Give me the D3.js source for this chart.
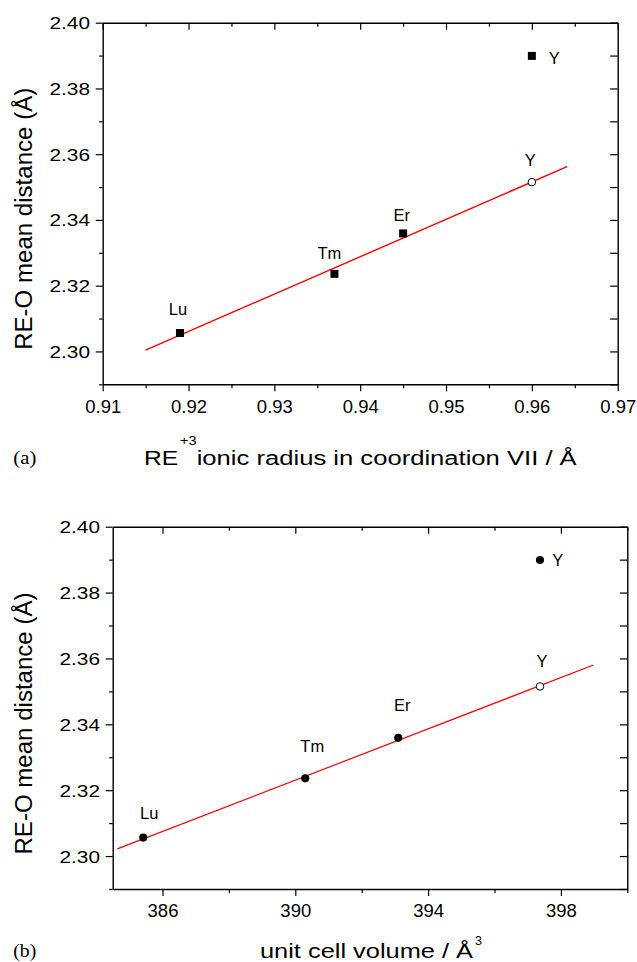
<!DOCTYPE html>
<html>
<head>
<meta charset="utf-8">
<script src="https://cdn.jsdelivr.net/npm/d3@7"></script>
<style>
  body { margin: 0; background: #fff; }
  svg text { font-family: "Liberation Sans", Arial, Helvetica, sans-serif; fill: #000; }
</style>
</head>
<body>
<svg id="fig" width="637" height="962"></svg>
<script>
// Rare-earth site geometry: mean RE-O distance vs ionic radius and vs unit cell volume
const elements = ["Lu", "Tm", "Er", "Y"];
const ionicRadius = [0.919, 0.937, 0.945, 0.960];          // Å, coordination VII
const cellVolume = [385.42, 390.30, 393.10, 397.37];       // Å^3
const meanDistance = [2.3056, 2.3236, 2.3359, 2.3899];     // Å, measured
const yttriumOnFit = 2.3515;                               // Å, Y value on the fitted line

// Linear fit lines (end points)
const fitRadius = [0.915, 0.9641];
const fitRadiusDistance = [2.3004, 2.3562];
const fitVolume = [384.64, 398.98];
const fitVolumeDistance = [2.3022, 2.3580];

// Tick values
const distanceTicks = [2.30, 2.32, 2.34, 2.36, 2.38, 2.40];
const distanceMinor = [2.29, 2.31, 2.33, 2.35, 2.37, 2.39];
const radiusTicks = [0.91, 0.92, 0.93, 0.94, 0.95, 0.96, 0.97];
const radiusMinor = [0.915, 0.925, 0.935, 0.945, 0.955, 0.965];
const volumeTicks = [386, 390, 394, 398];
const volumeMinor = [388, 392, 396, 400];

const svg = d3.select("#fig");

function drawPanel(cfg) {
  const x = d3.scaleLinear().domain(cfg.xDomain).range([cfg.left, cfg.right]);
  const y = d3.scaleLinear().domain([2.29, 2.40]).range([cfg.bottom, cfg.top]);
  const g = svg.append("g");

  const styleAxis = sel => {
    sel.selectAll(".domain").attr("stroke", "#000").attr("stroke-width", 1.4);
    sel.selectAll(".tick line").attr("stroke", "#000").attr("stroke-width", 1.2);
  };

  // bottom axis: outward ticks with labels
  const bx = g.append("g").attr("transform", `translate(0,${cfg.bottom})`)
    .call(d3.axisBottom(x).tickValues(cfg.xTicks).tickSize(7).tickSizeOuter(0).tickFormat(cfg.xFormat));
  bx.selectAll("text").attr("y", cfg.xLabelBase).attr("dy", null)
    .style("font-size", "18.5px");
  g.append("g").attr("transform", `translate(0,${cfg.bottom})`)
    .call(d3.axisBottom(x).tickValues(cfg.xMinor).tickSize(4).tickSizeOuter(0).tickFormat(""))
    .call(s => s.select(".domain").remove());
  styleAxis(g);

  // top axis: inward ticks
  const tx = g.append("g").attr("transform", `translate(0,${cfg.top})`);
  tx.call(d3.axisTop(x).tickValues(cfg.xTicks).tickSize(-7).tickSizeOuter(0).tickFormat(""));
  g.append("g").attr("transform", `translate(0,${cfg.top})`)
    .call(d3.axisTop(x).tickValues(cfg.xMinor).tickSize(-4).tickSizeOuter(0).tickFormat(""))
    .call(s => s.select(".domain").remove());

  // left axis: outward ticks with labels
  const ly = g.append("g").attr("transform", `translate(${cfg.left},0)`)
    .call(d3.axisLeft(y).tickValues(distanceTicks).tickSize(7).tickPadding(5.7).tickSizeOuter(0)
      .tickFormat(d3.format(".2f")));
  ly.selectAll("text").style("font-size", "16.5px").attr("dy", "0.36em")
    .attr("textLength", 40.5).attr("lengthAdjust", "spacingAndGlyphs");
  g.append("g").attr("transform", `translate(${cfg.left},0)`)
    .call(d3.axisLeft(y).tickValues(distanceMinor).tickSize(3.5).tickSizeOuter(0).tickFormat(""))
    .call(s => s.select(".domain").remove());

  // right axis: inward ticks at every 0.01
  g.append("g").attr("transform", `translate(${cfg.right},0)`)
    .call(d3.axisRight(y).tickValues(distanceTicks.concat(distanceMinor)).tickSize(-7.5)
      .tickSizeOuter(0).tickFormat(""));
  styleAxis(g);

  // fitted line
  const line = d3.line().x(d => x(d[0])).y(d => y(d[1]));
  g.append("path")
    .datum(cfg.fitX.map((v, i) => [v, cfg.fitY[i]]))
    .attr("d", line).attr("fill", "none").attr("stroke", "#ff0000").attr("stroke-width", cfg.fitWidth);

  // measured points
  const pts = cfg.xValues.map((v, i) => ({ x: v, y: meanDistance[i], name: elements[i], off: cfg.labelOffsets[i] }));
  const sym = d3.symbol().type(cfg.symbol).size(cfg.symbolSize);
  g.selectAll("path.pt").data(pts).join("path").attr("class", "pt")
    .attr("transform", d => `translate(${x(d.x)},${y(d.y)})`)
    .attr("d", sym).attr("fill", "#000");
  g.selectAll("text.pl").data(pts).join("text").attr("class", "pl")
    .attr("x", d => x(d.x) + d.off[0]).attr("y", d => y(d.y) + d.off[1])
    .attr("text-anchor", d => d.off[2] || "middle")
    .style("font-size", "16.5px").text(d => d.name);

  // Y estimated on the fitted line (open circle)
  const yi = elements.indexOf("Y");
  g.append("circle").attr("cx", x(cfg.xValues[yi])).attr("cy", y(yttriumOnFit)).attr("r", 3.8)
    .attr("fill", "#fff").attr("stroke", "#000").attr("stroke-width", 1);
  g.append("text").attr("x", x(cfg.xValues[yi]) + cfg.fitLabelOffset[0])
    .attr("y", y(yttriumOnFit) + cfg.fitLabelOffset[1]).attr("text-anchor", "middle")
    .style("font-size", "16.5px").text("Y");

  // y axis title
  g.append("text")
    .attr("transform", `translate(32.3,${cfg.bottom - 34.5}) rotate(-90)`)
    .attr("textLength", 262).attr("lengthAdjust", "spacingAndGlyphs")
    .style("font-size", "23.5px").text("RE-O mean distance (Å)");

  // x axis title
  cfg.xTitle(g);

  // panel tag
  g.append("text").attr("x", 13.3).attr("y", cfg.tagY)
    .style("font-family", '"Liberation Serif", "Times New Roman", serif').style("font-size", "18px")
    .attr("textLength", 23).attr("lengthAdjust", "spacingAndGlyphs")
    .text(cfg.tag);
}

// (a) ionic radius
drawPanel({
  xDomain: [0.91, 0.97], left: 102.7, right: 617.7, top: 22.7, bottom: 384.3,
  xTicks: radiusTicks, xMinor: radiusMinor, xFormat: d3.format(".2f"), xLabelBase: 29,
  xValues: ionicRadius, fitX: fitRadius, fitY: fitRadiusDistance, fitWidth: 1.4,
  symbol: d3.symbolSquare, symbolSize: 64,
  labelOffsets: [[-2, -18], [-5, -14.4], [-1.3, -12.6], [17, 8, "start"]],
  fitLabelOffset: [-1.7, -16.3],
  tag: "(a)", tagY: 463.5,
  xTitle: g => {
    g.append("text").attr("x", 144).attr("y", 465).style("font-size", "19.5px")
      .attr("textLength", 34.3).attr("lengthAdjust", "spacingAndGlyphs").text("RE");
    g.append("text").attr("x", 180).attr("y", 445).style("font-size", "12.5px")
      .attr("textLength", 16.5).attr("lengthAdjust", "spacingAndGlyphs").text("+3");
    g.append("text").attr("x", 196.7).attr("y", 465).style("font-size", "19.5px")
      .attr("textLength", 380).attr("lengthAdjust", "spacingAndGlyphs")
      .text("ionic radius in coordination VII / Å");
  }
});

// (b) unit cell volume
drawPanel({
  xDomain: [384.5, 400], left: 112.7, right: 627.3, top: 526.7, bottom: 889,
  xTicks: volumeTicks, xMinor: volumeMinor, xFormat: d3.format("d"), xLabelBase: 27.7,
  xValues: cellVolume, fitX: fitVolume, fitY: fitVolumeDistance, fitWidth: 1.2,
  symbol: d3.symbolCircle, symbolSize: 52,
  labelOffsets: [[6, -18.7], [7, -26.6], [4, -27], [12.3, 5.7, "start"]],
  fitLabelOffset: [2, -19.4],
  tag: "(b)", tagY: 956.8,
  xTitle: g => {
    g.append("text").attr("x", 260).attr("y", 958.3).style("font-size", "19.5px")
      .attr("textLength", 213).attr("lengthAdjust", "spacingAndGlyphs")
      .text("unit cell volume / Å");
    g.append("text").attr("x", 475).attr("y", 945).style("font-size", "12.5px").text("3");
  }
});
</script>
</body>
</html>
